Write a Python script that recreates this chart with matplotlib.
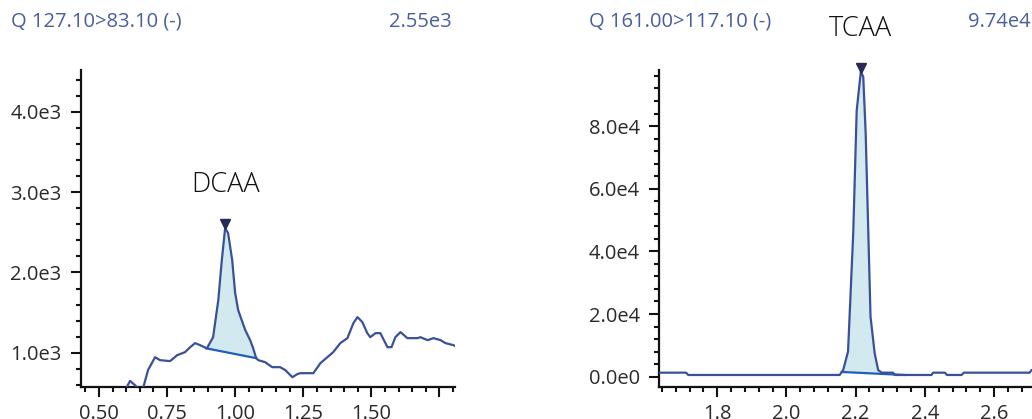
import matplotlib
matplotlib.use('Agg')
import matplotlib.pyplot as plt
from matplotlib.ticker import FixedLocator, MultipleLocator
from matplotlib.transforms import offset_copy

plt.rcParams['font.family'] = ['Open Sans', 'DejaVu Sans']

# DCAA trace, Q 127.10>83.10 (-)
dcaa_t = [0.595, 0.602, 0.614, 0.632, 0.650, 0.662, 0.680, 0.706, 0.724, 0.761, 0.787,
          0.816, 0.835, 0.853, 0.871, 0.896, 0.919, 0.938, 0.951, 0.963, 0.974, 0.989,
          1.000, 1.011, 1.037, 1.055, 1.066, 1.077, 1.085, 1.110, 1.136, 1.165, 1.184,
          1.210, 1.228, 1.239, 1.287, 1.313, 1.360, 1.386, 1.412, 1.434, 1.449, 1.467,
          1.485, 1.496, 1.515, 1.533, 1.559, 1.574, 1.588, 1.607, 1.632, 1.669, 1.680,
          1.706, 1.728, 1.754, 1.772, 1.801, 1.816]
dcaa_i = [520, 573, 651, 598, 540, 560, 785, 946, 909, 897, 971,
          1009, 1071, 1121, 1096, 1055, 1195, 1656, 2154, 2550, 2491, 2154,
          1743, 1532, 1283, 1158, 1059, 934, 909, 884, 822, 822, 785,
          697, 735, 747, 747, 872, 1009, 1121, 1183, 1370, 1445, 1382,
          1245, 1195, 1245, 1245, 1071, 1071, 1195, 1258, 1183, 1183, 1195,
          1158, 1183, 1158, 1121, 1096, 1071]
dcaa_start, dcaa_end = 0.896, 1.077
dcaa_peak = (0.963, 2550)

# TCAA trace, Q 161.00>117.10 (-)
tcaa_t = [1.60, 1.710, 1.716, 2.154, 2.164, 2.178, 2.193, 2.203, 2.215, 2.222, 2.229,
          2.243, 2.255, 2.265, 2.275, 2.308, 2.313, 2.419, 2.424, 2.458, 2.464, 2.506,
          2.513, 2.703, 2.708, 2.73]
tcaa_i = [1276, 1276, 540, 540, 2140, 8000, 45800, 85000, 97400, 95700, 77600,
          19100, 7460, 2140, 1276, 1276, 540, 540, 1276, 1276, 540, 540,
          1276, 1276, 2100, 2600]
tcaa_start, tcaa_end = 2.160, 2.340
tcaa_peak = (2.215, 97400)

line_c = '#3a5199'
base_c = '#1f5fb8'
fill_c = '#d3e9f0'
title_c = '#4a5e9e'
tick_c = '#2a2a2a'


def interp(t, i, x):
    for k in range(len(t) - 1):
        if t[k] <= x <= t[k + 1]:
            f = (x - t[k]) / (t[k + 1] - t[k])
            return i[k] + f * (i[k + 1] - i[k])
    return i[-1]


def draw_trace(ax, t, i, start, end, peak, name):
    ax.plot(t, i, color=line_c, lw=1.6, zorder=3)
    # integrated area between trace and straight baseline
    y0 = interp(t, i, start)
    y1 = interp(t, i, end)
    xs = [start] + [x for x in t if start < x < end] + [end]
    ys = [y0] + [v for x, v in zip(t, i) if start < x < end] + [y1]
    bl = [y0 + (x - start) / (end - start) * (y1 - y0) for x in xs]
    ax.fill_between(xs, bl, ys, color=fill_c, lw=0, zorder=1)
    ax.plot([start, end], [y0, y1], color=base_c, lw=1.6, zorder=2)
    tr = offset_copy(ax.transData, fig=ax.figure, y=4, units='dots')
    ax.plot(peak[0], peak[1], marker='v', color='#252b55', ms=7,
            transform=tr, clip_on=False, zorder=5)
    ax.annotate(name, xy=peak, xytext=(0, 29), textcoords='offset pixels',
                ha='center', va='bottom', fontsize=19.5, color='#111111',
                fontweight='light', annotation_clip=False)


def style(ax):
    for s in ['top', 'right']:
        ax.spines[s].set_visible(False)
    for s in ['left', 'bottom']:
        ax.spines[s].set_linewidth(1.6)
        ax.spines[s].set_color('#111111')
    ax.tick_params(which='major', length=7, width=1.5, color='#111111',
                   labelsize=14.5, labelcolor=tick_c, pad=5)
    ax.tick_params(which='minor', length=3.5, width=1.5, color='#111111')
    ax.tick_params(axis='y', which='major', pad=7)


fig = plt.figure(figsize=(10.32, 4.19), dpi=100)

ax1 = fig.add_axes([81 / 1032, 32 / 419, 374 / 1032, 317 / 419])
draw_trace(ax1, dcaa_t, dcaa_i, dcaa_start, dcaa_end, dcaa_peak, 'DCAA')
ax1.set_xlim(0.434, 1.807)
ax1.set_ylim(575, 4520)
ax1.xaxis.set_major_locator(FixedLocator([0.50, 0.75, 1.00, 1.25, 1.50, 1.75]))
ax1.set_xticklabels(['0.50', '0.75', '1.00', '1.25', '1.50', ''])
ax1.xaxis.set_minor_locator(MultipleLocator(0.05))
ax1.yaxis.set_major_locator(FixedLocator([1000, 2000, 3000, 4000]))
ax1.set_yticklabels(['1.0e3', '2.0e3', '3.0e3', '4.0e3'])
ax1.yaxis.set_minor_locator(MultipleLocator(200))
style(ax1)

ax2 = fig.add_axes([659.3 / 1032, 32 / 419, 378 / 1032, 317 / 419])
draw_trace(ax2, tcaa_t, tcaa_i, tcaa_start, tcaa_end, tcaa_peak, 'TCAA')
ax2.set_xlim(1.6325, 2.725)
ax2.set_ylim(-3300, 97900)
ax2.xaxis.set_major_locator(FixedLocator([1.8, 2.0, 2.2, 2.4, 2.6]))
ax2.set_xticklabels(['1.8', '2.0', '2.2', '2.4', '2.6'])
ax2.xaxis.set_minor_locator(MultipleLocator(0.04))
ax2.yaxis.set_major_locator(FixedLocator([0, 20000, 40000, 60000, 80000]))
ax2.set_yticklabels(['0.0e0', '2.0e4', '4.0e4', '6.0e4', '8.0e4'])
ax2.yaxis.set_minor_locator(MultipleLocator(4000))
style(ax2)

fig.text(11 / 1032, 1 - 22 / 419, 'Q 127.10>83.10 (-)', color=title_c,
         fontsize=14.5, ha='left', va='center')
fig.text(452 / 1032, 1 - 22 / 419, '2.55e3', color=title_c,
         fontsize=14.5, ha='right', va='center')
fig.text(589 / 1032, 1 - 22 / 419, 'Q 161.00>117.10 (-)', color=title_c,
         fontsize=14.5, ha='left', va='center')
fig.text(1031 / 1032, 1 - 22 / 419, '9.74e4', color=title_c,
         fontsize=14.5, ha='right', va='center')

fig.savefig('out.png', dpi=100)
